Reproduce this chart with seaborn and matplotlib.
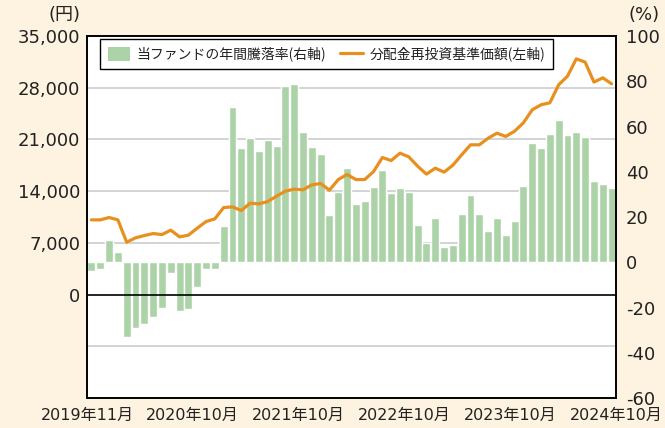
import numpy as np
import pandas as pd
import matplotlib
matplotlib.use("Agg")
import matplotlib.pyplot as plt
import seaborn as sns
from matplotlib.patches import Patch
from matplotlib.lines import Line2D

# ---------------- data ----------------
months = [d.strftime("%Y-%m") for d in pd.date_range("2019-11-01", "2024-10-01", freq="MS")]

annual_return_pct = [-4, -3, 10, 4.4, -33, -29, -27.4, -24.2, -20.2, -4.7, -21.5, -20.6,
                     -10.9, -3.2, -2.9, 15.9, 68.4, 50.4, 55.1, 49.1, 53.9, 51.3, 77.8, 78.7,
                     57.5, 50.8, 47.7, 20.8, 30.9, 41.5, 25.9, 27.0, 33.1, 40.7, 30.5, 32.7,
                     30.9, 16.4, 8.4, 19.7, 6.6, 7.5, 21.2, 29.6, 21.2, 13.7, 19.4, 11.9,
                     18.1, 33.6, 52.6, 50.4, 56.6, 62.8, 56.1, 57.5, 55.2, 35.8, 34.5, 32.7]

nav_reinvested = [10110, 10110, 10430, 10110, 7090, 7680, 7990, 8260, 8120, 8720, 7810, 8040,
                  8990, 9880, 10250, 11780, 11870, 11370, 12370, 12280, 12590, 13320, 14000, 14270,
                  14180, 14850, 15030, 14130, 15570, 16250, 15570, 15570, 16650, 18550, 18140, 19140,
                  18640, 17380, 16300, 17110, 16570, 17520, 18920, 20270, 20270, 21170, 21850, 21400,
                  22120, 23250, 25010, 25690, 25960, 28400, 29570, 31910, 31460, 28760, 29340, 28530]

x_tick_labels = ["2019年11月", "2020年10月", "2021年10月", "2022年10月", "2023年10月", "2024年10月"]
left_ticks = [0, 7000, 14000, 21000, 28000, 35000]
right_ticks = [-60, -40, -20, 0, 20, 40, 60, 80, 100]

bar_label = "当ファンドの年間騰落率(右軸)"
line_label = "分配金再投資基準価額(左軸)"

df = pd.DataFrame({"month": months, "ret": annual_return_pct,
                   "nav": nav_reinvested, "pos": np.arange(len(months))})

# ---------------- style ----------------
sns.set_style("white")
plt.rcParams["font.family"] = ["DejaVu Sans", "Noto Sans CJK JP"]

BG = "#FEF3E0"
GREEN = "#ACD3A8"
ORANGE = "#E8901E"
GRID = "#D3D3D3"

fig = plt.figure(figsize=(6.65, 4.28), dpi=100, facecolor=BG)
ax = fig.add_axes([87 / 665, 1 - 398 / 428, (616 - 87) / 665, (398 - 36) / 428])
ax2 = ax.twinx()

L_MIN, L_MAX = -14000, 35000
R_MIN, R_MAX = -60, 100

def left_to_right(v):
    return R_MIN + (v - L_MIN) * (R_MAX - R_MIN) / (L_MAX - L_MIN)

# bars on right axis (lower layer)
ax2.set_zorder(1)
ax.set_zorder(2)
ax.patch.set_visible(False)
ax2.patch.set_visible(True)
ax2.patch.set_facecolor("white")

for g in [-7000, 7000, 14000, 21000, 28000]:
    ax2.axhline(left_to_right(g), color=GRID, lw=1.4, zorder=0)

sns.barplot(data=df, x="month", y="ret", order=months, color=GREEN, saturation=1,
            width=0.9, ax=ax2, zorder=2)

# line on left axis (upper layer)
sns.lineplot(data=df, x="pos", y="nav", color=ORANGE, lw=2.3, ax=ax, legend=False)
ax.axhline(0, color="black", lw=1.2, zorder=3)

ax.set_ylim(L_MIN, L_MAX)
ax2.set_ylim(R_MIN, R_MAX)
ax.set_xlim(-0.5, len(months) - 0.5)

ax.set_yticks(left_ticks)
ax.set_yticklabels([f"{v:,}" for v in left_ticks])
ax2.set_yticks(right_ticks)
ax2.set_yticklabels([str(v) for v in right_ticks])

ax.set_xticks([-0.5 + 12 * i for i in range(len(x_tick_labels))])
ax.set_xticklabels(x_tick_labels)

for a in (ax, ax2):
    a.set_xlabel("")
    a.set_ylabel("")
    for s in a.spines.values():
        s.set_color("black")
        s.set_linewidth(1.2)
        s.set_visible(True)

ax.tick_params(axis="y", which="both", length=0, pad=5, labelsize=13, colors="#222222")
ax2.tick_params(axis="y", which="both", length=0, pad=7, labelsize=13, colors="#222222")
ax.tick_params(axis="x", direction="in", length=6, width=1.2, color="black",
               labelsize=11.5, pad=7, labelcolor="#222222")

fig.text(81 / 665, 1 - 15 / 428, "(円)", ha="right", va="center", fontsize=13, color="#222222")
fig.text(628 / 665, 1 - 15 / 428, "(%)", ha="left", va="center", fontsize=13, color="#222222")

handles = [Patch(facecolor=GREEN, edgecolor="none", label=bar_label),
           Line2D([0], [0], color=ORANGE, lw=2.3, label=line_label)]
leg = ax.legend(handles=handles, loc="upper left", bbox_to_anchor=(13 / 529, 1 - 3 / 362),
                ncol=2, frameon=True, fancybox=False, framealpha=1, edgecolor="black",
                prop={"family": ["Noto Sans CJK JP"], "size": 10}, handlelength=1.6,
                handleheight=1.2, handletextpad=0.5, columnspacing=1.0,
                borderpad=0.55, borderaxespad=0)
leg.get_frame().set_linewidth(1.0)
for t in leg.get_texts():
    t.set_color("#222222")

fig.savefig("out.png", dpi=100, facecolor=BG)
